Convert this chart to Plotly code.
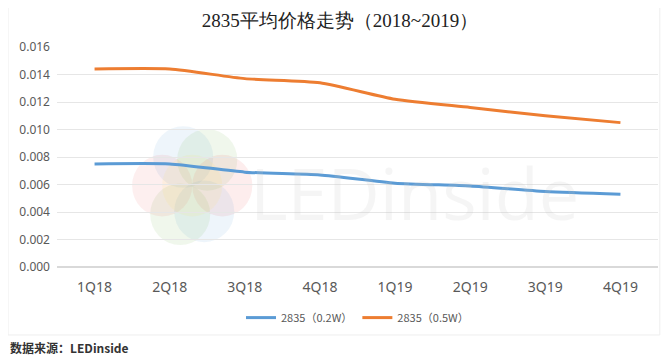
import plotly.graph_objects as go

quarters = ["1Q18", "2Q18", "3Q18", "4Q18", "1Q19", "2Q19", "3Q19", "4Q19"]
price_02w = [0.0075, 0.0075, 0.0069, 0.0067, 0.0061, 0.0059, 0.0055, 0.0053]
price_05w = [0.0144, 0.0144, 0.0137, 0.0134, 0.0122, 0.0116, 0.0110, 0.0105]
series_names = ["2835（0.2W）", "2835（0.5W）"]
y_ticks = [0.000, 0.002, 0.004, 0.006, 0.008, 0.010, 0.012, 0.014, 0.016]

fig = go.Figure()
fig.add_trace(go.Scatter(x=quarters, y=price_02w, name=series_names[0], mode="lines",
                         line=dict(color="#5B9BD5", width=3, shape="spline", smoothing=0.6)))
fig.add_trace(go.Scatter(x=quarters, y=price_05w, name=series_names[1], mode="lines",
                         line=dict(color="#ED7D31", width=3, shape="spline", smoothing=0.6)))

# faint watermark
fig.add_annotation(text="LEDinside", xref="paper", yref="paper", x=0.595, y=0.34,
                   showarrow=False, font=dict(family="Open Sans, Arial", size=72, color="rgba(200,200,200,0.18)"))
flower = [("rgba(91,155,213,0.10)", -0.3, 1.0), ("rgba(112,173,71,0.10)", 0.5, 0.9),
          ("rgba(237,80,80,0.10)", 1.0, 0.0), ("rgba(91,155,213,0.10)", 0.4, -0.9),
          ("rgba(112,173,71,0.10)", -0.4, -1.0), ("rgba(237,80,80,0.09)", -1.0, 0.0),
          ("rgba(255,230,80,0.10)", 0.0, 0.0)]
cx0, cy0, dx, dy, rx, ry = 0.225, 0.37, 0.05, 0.13, 0.05, 0.14
for col, ox, oy in flower:
    cx, cy = cx0 + ox * dx, cy0 + oy * dy
    fig.add_shape(type="circle", xref="paper", yref="paper", layer="below",
                  x0=cx - rx, x1=cx + rx, y0=cy - ry, y1=cy + ry,
                  fillcolor=col, line=dict(width=0))

fig.update_layout(
    width=664, height=347,
    margin=dict(l=49, r=14, t=39, b=88),
    paper_bgcolor="white", plot_bgcolor="white",
    title=dict(text="2835平均价格走势（2018~2019）", x=0.5, xanchor="center", y=0.965, yanchor="middle",
               font=dict(family="'Liberation Serif', 'DejaVu Serif', serif", size=19, color="#222222")),
    xaxis=dict(showgrid=False, showline=False, ticks="", range=[-0.5, 7.5],
               tickfont=dict(family="Noto Sans, Open Sans", size=14, color="#595959"),
               ticklabelstandoff=10),
    yaxis=dict(range=[0, 0.016], tickvals=y_ticks, tickformat=".3f", showgrid=True, gridcolor="#e6e6e6",
               zeroline=True, zerolinecolor="#d9d9d9", ticklabelstandoff=6,
               tickfont=dict(family="Noto Sans, Open Sans", size=12, color="#595959")),
    legend=dict(orientation="h", x=0.5, xanchor="center", y=-0.23, yanchor="middle", itemwidth=30,
                font=dict(family="Noto Sans CJK SC", size=11, color="#595959")),
    showlegend=True,
)
fig.add_shape(type="rect", xref="paper", yref="paper", x0=-0.0815, x1=1.003, y0=-0.309, y1=1.186,
              line=dict(color="#eeeeee", width=1))
fig.add_annotation(text="<b>数据来源：LEDinside</b>", xref="paper", yref="paper", x=-0.0815, xanchor="left",
                   y=-0.364, yanchor="middle", showarrow=False,
                   font=dict(family="Noto Sans CJK SC", size=12, color="#333333"))

fig.write_html("out.html")
